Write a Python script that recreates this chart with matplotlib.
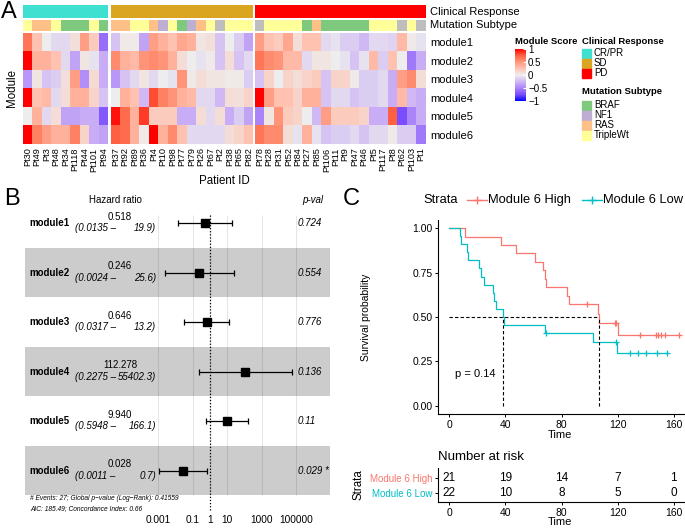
import numpy as np
import matplotlib
matplotlib.use("Agg")
import matplotlib.pyplot as plt
from matplotlib.colors import LinearSegmentedColormap, to_rgb
from matplotlib.patches import Rectangle

plt.rcParams["font.family"] = ["Liberation Sans", "DejaVu Sans"]

W, H = 685, 528

# ---------------- panel A data ----------------
modules = ["module1", "module2", "module3", "module4", "module5", "module6"]
responses = ["CR/PR", "SD", "PD"]
patients_crpr = ["Pt30", "Pt49", "Pt3", "Pt48", "Pt34", "Pt118", "Pt44", "Pt101", "Pt94"]
patients_sd = ["Pt37", "Pt92", "Pt89", "Pt36", "Pt4", "Pt10", "Pt98", "Pt77", "Pt79",
               "Pt26", "Pt67", "Pt2", "Pt38", "Pt65", "Pt82"]
patients_pd = ["Pt78", "Pt28", "Pt31", "Pt52", "Pt84", "Pt27", "Pt85", "Pt106", "Pt11",
               "Pt9", "Pt47", "Pt46", "Pt5", "Pt117", "Pt8", "Pt62", "Pt103", "Pt1"]
mut_crpr = ["TripleWt", "RAS", "RAS", "TripleWt", "BRAF", "BRAF", "BRAF", "TripleWt", "BRAF"]
mut_sd = ["RAS", "RAS", "TripleWt", "TripleWt", "RAS", "NF1", "TripleWt", "BRAF", "NF1",
          "RAS", "TripleWt", "NA", "TripleWt", "TripleWt", "TripleWt"]
mut_pd = ["NA", "TripleWt", "TripleWt", "TripleWt", "TripleWt", "BRAF", "RAS", "BRAF", "BRAF",
          "BRAF", "BRAF", "BRAF", "TripleWt", "TripleWt", "TripleWt", "NA", "TripleWt", "NA"]

score_crpr = [
    [0.65, 0.25, 0.0, -0.1, -0.1, 0.08, 0.45, 0.2, -0.6],
    [1.0, 0.35, 0.35, 0.25, -0.1, -0.35, 0.05, -0.05, -0.3],
    [-0.4, 0.05, -0.2, -0.15, 0.08, 0.45, -0.45, 0.12, -0.3],
    [1.0, 0.25, 0.3, -0.1, 0.1, 0.35, 0.35, 0.15, -0.2],
    [0.0, 0.35, -0.1, 0.1, -0.35, -0.35, -0.3, -0.3, -0.7],
    [1.0, 0.6, 0.45, 0.35, 0.35, 0.6, 0.15, -0.3, -0.35],
]
score_sd = [
    [-0.2, 0.03, 0.03, -0.35, 0.45, 0.35, 0.25, 0.4, 0.35, 0.05, 0.08, -0.2, 0.0, -0.15, -0.35],
    [0.55, 0.35, 0.3, 0.5, 0.55, 0.5, 0.35, 0.1, 0.0, -0.05, 0.02, -0.2, 0.1, -0.2, -0.1],
    [-0.4, -0.2, -0.1, 0.05, -0.1, 0.0, -0.05, 0.5, 0.02, 0.1, 0.05, 0.05, 0.03, 0.03, -0.15],
    [0.0, 0.35, 0.25, -0.25, 0.8, 0.6, 0.5, 0.35, 0.3, -0.1, -0.1, -0.25, 0.1, 0.08, 0.15],
    [0.95, 0.7, 0.35, 0.85, 0.2, 0.2, 0.2, -0.3, -0.3, 0.1, -0.1, 0.1, -0.3, -0.15, -0.35],
    [0.75, 0.7, 0.35, 0.03, 1.0, 0.35, 0.55, 0.25, -0.1, -0.1, -0.1, -0.1, 0.1, 0.15, 0.25],
]
score_pd = [
    [0.45, 0.25, 0.2, 0.4, 0.1, 0.25, 0.25, -0.1, -0.05, -0.15, -0.15, -0.25, -0.1, -0.1, -0.12, 0.3, 0.02, -0.05],
    [0.65, 0.55, 0.5, 0.3, 0.3, -0.1, 0.05, 0.05, 0.0, -0.05, -0.2, -0.05, 0.3, -0.15, 0.25, 0.0, -0.55, -0.3],
    [-0.2, 0.15, 0.0, 0.15, 0.1, 0.15, 0.2, -0.2, 0.15, 0.15, 0.02, -0.15, -0.15, -0.1, -0.3, 0.45, 0.55, 0.1],
    [1.0, 0.45, 0.25, 0.25, 0.15, 0.35, 0.35, -0.2, -0.1, -0.1, -0.2, -0.15, -0.15, -0.1, -0.3, 0.3, -0.25, -0.3],
    [-0.5, 0.05, 0.5, 0.2, 0.15, 0.0, -0.25, 0.45, 0.2, 0.2, 0.2, 0.15, -0.3, -0.3, 0.75, -0.75, -0.5, -0.3],
    [0.65, 0.55, 0.55, 0.1, -0.05, 0.35, -0.05, -0.2, -0.15, -0.15, -0.1, -0.2, -0.1, -0.1, 0.03, -0.15, -0.15, -0.55],
]

resp_colors = {"CR/PR": "#40E0D0", "SD": "#DAA520", "PD": "#FF0000"}
mut_colors = {"BRAF": "#7FC97F", "NF1": "#BEAED4", "RAS": "#FDC086",
              "TripleWt": "#FFFF99", "NA": "#BEBEBE"}

# ---------------- panel B data ----------------
hr = [0.518, 0.246, 0.646, 112.278, 9.940, 0.028]
ci_lo = [0.0135, 0.0024, 0.0317, 0.2275, 0.5948, 0.0011]
ci_hi = [19.9, 25.6, 13.2, 55402.3, 166.1, 0.7]
pvals = ["0.724", "0.554", "0.776", "0.136", "0.11", "0.029 *"]
forest_ticks = [0.001, 0.1, 1, 10, 1000, 100000]
forest_ticklabels = ["0.001", "0.1", "1", "10", "1000", "100000"]

# ---------------- panel C data ----------------
high_t = [0, 11.4, 36.9, 47.6, 61, 67, 68, 69, 84, 85.5, 106, 106.5, 120, 164]
high_s = [1.0, 0.952, 0.905, 0.857, 0.810, 0.762, 0.714, 0.667, 0.619, 0.571, 0.519, 0.467, 0.400, 0.400]
high_cens_t = [98, 118, 119, 136, 147, 149, 151, 154, 164]
high_cens_s = [0.571, 0.467, 0.467, 0.4, 0.4, 0.4, 0.4, 0.4, 0.4]
low_t = [0, 8, 8.6, 13, 13.6, 21.4, 22.6, 24.5, 31.2, 32, 33.1, 38.3, 39.3, 68, 102.4, 119.3, 155]
low_s = [1.0, 0.955, 0.909, 0.864, 0.818, 0.773, 0.727, 0.682, 0.636, 0.591, 0.545, 0.5, 0.455,
         0.409, 0.358, 0.30, 0.30]
low_cens_t = [68.6, 118.6, 128.8, 134.3, 140, 148.2, 155]
low_cens_s = [0.409, 0.358, 0.30, 0.30, 0.30, 0.30, 0.30]
median_high = 106.5
median_low = 38.3
risk_times = [0, 40, 80, 120, 160]
risk_high = [21, 19, 14, 7, 1]
risk_low = [22, 10, 8, 5, 0]
col_high = "#F8766D"
col_low = "#00BFC4"


def box(l, t, r, b):
    return [l / W, 1 - b / H, (r - l) / W, (b - t) / H]


fig = plt.figure(figsize=(W / 100, H / 100), dpi=100)

cmap = LinearSegmentedColormap.from_list(
    "modscore",
    [(0.0, "#0000FF"), (0.125, "#7A4EFD"), (0.25, "#AB84FA"), (0.375, "#D0B8F5"),
     (0.5, "#EEEEEE"), (0.625, "#FFC3B3"), (0.75, "#FF967A"), (0.875, "#FF6343"),
     (1.0, "#FF0000")])

# ================= panel A: heatmap =================
groups = [(patients_crpr, mut_crpr, score_crpr, (23, 108)),
          (patients_sd, mut_sd, score_sd, (111, 253)),
          (patients_pd, mut_pd, score_pd, (255, 426))]
for gi, (pts, muts, scores, (x0, x1)) in enumerate(groups):
    n = len(pts)
    ax_r = fig.add_axes(box(x0, 5, x1, 18))
    ax_r.imshow([[to_rgb(resp_colors[responses[gi]])] * n], aspect="auto",
                extent=(0, n, 1, 0), interpolation="nearest")
    ax_r.axis("off")
    ax_m = fig.add_axes(box(x0, 19.5, x1, 31))
    ax_m.imshow([[to_rgb(mut_colors[m]) for m in muts]], aspect="auto",
                extent=(0, n, 1, 0), interpolation="nearest")
    ax_m.axis("off")
    ax_h = fig.add_axes(box(x0, 33, x1, 144))
    im = ax_h.imshow(np.array(scores), cmap=cmap, vmin=-1, vmax=1, aspect="auto",
                     extent=(0, n, 6, 0), interpolation="nearest")
    ax_h.set_xticks(np.arange(n) + 0.5)
    ax_h.set_xticklabels(pts, rotation=90, fontsize=6.6)
    ax_h.tick_params(axis="x", length=0, pad=2.5)
    for s in ax_h.spines.values():
        s.set_visible(False)
    if gi == 2:
        ax_h.yaxis.tick_right()
        ax_h.set_yticks(np.arange(6) + 0.5)
        ax_h.set_yticklabels(modules, fontsize=8)
        ax_h.tick_params(axis="y", length=0, pad=3)
    else:
        ax_h.set_yticks([])

# colour bar legend
ax_cb = fig.add_axes(box(515, 49, 526, 101))
cb = fig.colorbar(im, cax=ax_cb, ticks=[1, 0.5, 0, -0.5, -1])
cb.outline.set_visible(False)
cb.ax.set_yticklabels(["1", "0.5", "0", "\u22120.5", "\u22121"], fontsize=7)
cb.ax.tick_params(length=2, color="white", width=0.8, pad=1.5, direction="in")

# ================= panel B: forest plot =================
px_dec = 17.25
axb = fig.add_axes(box(25, 198, 330, 512))
axb.set_xscale("log")
axb.set_xlim(10 ** ((25 - 210) / px_dec), 10 ** ((330 - 210) / px_dec))
axb.set_ylim((512 - 223) / 49.5, (198 - 223) / 49.5)
rows = np.arange(len(hr))
for i in rows[1::2]:
    axb.axhspan(i - 0.5, i + 0.5, color="#CCCCCC", lw=0, zorder=0)
axb.vlines(forest_ticks, -0.16, 5.5, color="black", alpha=0.1, lw=0.8, zorder=1)
axb.vlines(1, -0.16, 5.8, color="black", lw=0.9, linestyles=(0, (1, 1.5)), zorder=2)
hr_a = np.array(hr)
axb.errorbar(hr_a, rows, xerr=[hr_a - np.array(ci_lo), np.array(ci_hi) - hr_a],
             fmt="s", color="black", ms=6, capsize=2.5, elinewidth=0.9,
             capthick=0.9, zorder=3)
axb.set_xticks(forest_ticks)
axb.set_xticklabels(forest_ticklabels, fontsize=7.3)
axb.minorticks_off()
axb.tick_params(axis="x", length=0, pad=2)
axb.set_yticks([])
for s in axb.spines.values():
    s.set_visible(False)
axb.patch.set_visible(False)

tr = axb.get_yaxis_transform()


def fx(p):
    return (p - 25) / 305


for i in rows:
    axb.text(fx(29), i, modules[i], transform=tr, fontsize=7, fontweight="bold",
             ha="left", va="center")
    axb.text(fx(120), i - 0.13, f"{hr[i]:.3f}", transform=tr, fontsize=7,
             ha="center", va="center")
    axb.text(fx(75), i + 0.11, f"({ci_lo[i]:.4f} \u2013", transform=tr, fontsize=7,
             style="italic", ha="left", va="center")
    axb.text(fx(156), i + 0.11, f"{ci_hi[i]:.1f})", transform=tr, fontsize=7,
             style="italic", ha="right", va="center")
    axb.text(fx(298), i, pvals[i], transform=tr, fontsize=7, style="italic",
             ha="left", va="center")

# ================= panel C: KM curves =================
axc = fig.add_axes(box(438, 220, 685, 414))
axc.step(high_t, high_s, where="post", color=col_high, lw=0.9)
axc.step(low_t, low_s, where="post", color=col_low, lw=0.9)
axc.plot(high_cens_t, high_cens_s, "+", color=col_high, ms=5, mew=0.9)
axc.plot(low_cens_t, low_cens_s, "+", color=col_low, ms=5, mew=0.9)
axc.plot([0, median_high], [0.5, 0.5], color="black", lw=0.8, ls=(0, (3, 2)))
axc.plot([median_low, median_low], [0, 0.5], color="black", lw=0.8, ls=(0, (3, 2)))
axc.plot([median_high, median_high], [0, 0.5], color="black", lw=0.8, ls=(0, (3, 2)))
axc.text(4, 0.18, "p = 0.14", fontsize=8, ha="left", va="center")
axc.set_xlim(-8, 168)
axc.set_ylim(-0.045, 1.045)
axc.set_xticks(risk_times)
axc.set_yticks([0, 0.25, 0.5, 0.75, 1.0])
axc.set_yticklabels(["0.00", "0.25", "0.50", "0.75", "1.00"])
axc.tick_params(labelsize=7.5, length=2.5, pad=1.5, width=0.7)
for s in ["top", "right"]:
    axc.spines[s].set_visible(False)
for s in ["left", "bottom"]:
    axc.spines[s].set_linewidth(0.8)

# risk table
axr = fig.add_axes(box(438, 468, 685, 502))
axr.set_xlim(-8, 168)
axr.set_ylim(-0.6, 1.667)
for t, nh, nl in zip(risk_times, risk_high, risk_low):
    axr.text(t, 1, str(nh), fontsize=8.5, ha="center", va="center")
    axr.text(t, 0, str(nl), fontsize=8.5, ha="center", va="center")
axr.set_xticks(risk_times)
axr.set_yticks([1, 0])
axr.set_yticklabels(["Module 6 High", "Module 6 Low"], fontsize=7)
for lab, c in zip(axr.get_yticklabels(), [col_high, col_low]):
    lab.set_color(c)
axr.tick_params(axis="x", labelsize=7.5, length=2.5, pad=1.5, width=0.7)
axr.tick_params(axis="y", length=2.5, pad=1.5, width=0.7)
for s in ["top", "right"]:
    axr.spines[s].set_visible(False)
for s in ["left", "bottom"]:
    axr.spines[s].set_linewidth(0.8)

# ================= free text / legends (pixel overlay) =================
ov = fig.add_axes([0, 0, 1, 1])
ov.set_xlim(0, W)
ov.set_ylim(H, 0)
ov.axis("off")
ov.patch.set_visible(False)

ov.text(1, 12, "A", fontsize=17, ha="left", va="center")
ov.text(4, 199, "B", fontsize=17, ha="left", va="center")
ov.text(343, 199, "C", fontsize=17, ha="left", va="center")

ov.text(430, 12, "Clinical Response", fontsize=8, ha="left", va="center")
ov.text(430, 25, "Mutation Subtype", fontsize=8, ha="left", va="center")
ov.text(12, 88, "Module", fontsize=8.3, rotation=90, ha="center", va="center")
ov.text(224, 181, "Patient ID", fontsize=8.3, ha="center", va="center")

ov.text(515, 41, "Module Score", fontsize=6.8, fontweight="bold", ha="left", va="center")
ov.text(582, 41, "Clinical Response", fontsize=6.8, fontweight="bold", ha="left", va="center")
ov.text(582, 92, "Mutation Subtype", fontsize=6.8, fontweight="bold", ha="left", va="center")
for k, r in enumerate(responses):
    y = 49 + 10 * k
    ov.add_patch(Rectangle((582, y), 9, 9, color=resp_colors[r]))
    ov.text(594, y + 4.5, r, fontsize=7, ha="left", va="center")
for k, m in enumerate(["BRAF", "NF1", "RAS", "TripleWt"]):
    y = 101 + 10 * k
    ov.add_patch(Rectangle((582, y), 9, 9, color=mut_colors[m]))
    ov.text(594, y + 4.5, m, fontsize=7, ha="left", va="center")

ov.text(115, 200, "Hazard ratio", fontsize=7, ha="center", va="center")
ov.text(323, 200, "p-val", fontsize=7, style="italic", ha="right", va="center")
ov.text(30, 499, "# Events: 27; Global p\u2212value (Log\u2212Rank): 0.41559",
        fontsize=4.8, style="italic", ha="left", va="center")
ov.text(30, 509, "AIC: 185.49; Concordance Index: 0.66",
        fontsize=4.8, style="italic", ha="left", va="center")

ov.text(423, 200, "Strata", fontsize=9.3, ha="left", va="center")
ov.plot([467, 487], [200, 200], color=col_high, lw=1)
ov.plot([477], [200], "+", color=col_high, ms=6, mew=1)
ov.text(488, 200, "Module 6 High", fontsize=9.3, ha="left", va="center")
ov.plot([582, 602], [200, 200], color=col_low, lw=1)
ov.plot([592], [200], "+", color=col_low, ms=6, mew=1)
ov.text(603, 200, "Module 6 Low", fontsize=9.3, ha="left", va="center")

ov.text(366, 317, "Survival probability", fontsize=7.5, rotation=90, ha="center", va="center")
ov.text(560, 435, "Time", fontsize=8, ha="center", va="center")
ov.text(438, 457, "Number at risk", fontsize=9.5, ha="left", va="center")
ov.text(359, 485, "Strata", fontsize=8.3, rotation=90, ha="center", va="center")
ov.text(560, 522, "Time", fontsize=8, ha="center", va="center")

fig.savefig("out.png", dpi=100)
